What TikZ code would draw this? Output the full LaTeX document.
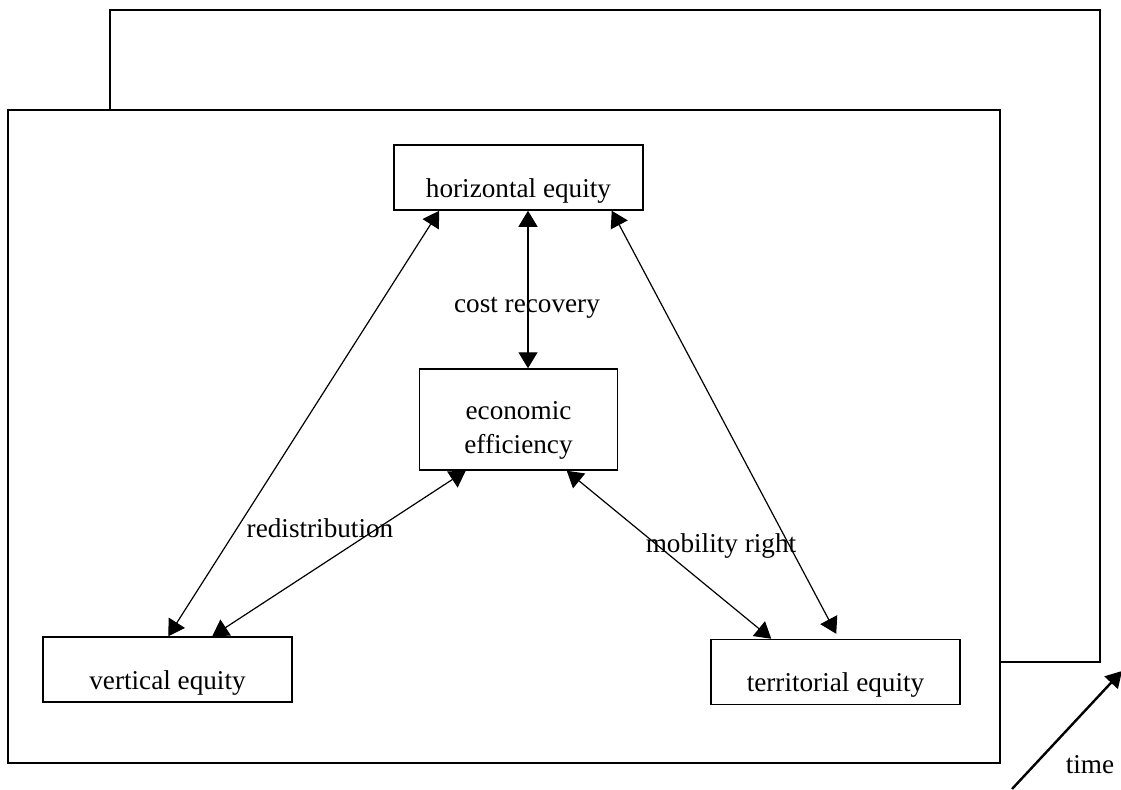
\documentclass[tikz,border=0pt]{standalone}
\usepackage{fontspec}
\setmainfont{Liberation Serif}
\usepackage{tikz}
\usetikzlibrary{positioning,arrows.meta}

\begin{document}
\begin{tikzpicture}[
	x=0.5pt, y=-0.5pt, % 1 unit = 1 pixel of the layout
	font=\fontsize{13.6}{17}\selectfont,
	frame/.style={
		draw=black,           % outer panels
		line width=0.75pt
	},
	box/.style={
		draw=black,
		line width=0.75pt,
		minimum width=124.5pt,
		minimum height=32.5pt,
		text height=19.5pt,   % text sits low in the box
		text depth=0pt,
		anchor=center
	},
	lbl/.style={              % labels on the links
		anchor=base,
		inner sep=0pt
	},
	link/.style={             % two-way link
		{Triangle[length=8pt,width=9.5pt]}-{Triangle[length=8pt,width=9.5pt]},
		line width=0.6pt
	},
	arrow_time/.style={
		-{Triangle[length=8pt,width=9pt]},
		line width=1.2pt
	}
	]
	\useasboundingbox (0,0) rectangle (1121,789);
	
	% --- PANELS ---
	\draw[frame] (110,10) rectangle (1100,662);
	\draw[frame, fill=white] (8,110) rectangle (1000,763);
	
	% --- BOXES ---
	\node[box] (hor) at (518.5,177.5) {horizontal equity};
	\node[box, minimum width=99pt, minimum height=50.5pt,
		align=center, text height=33.5pt, text depth=0pt] (econ) at (518.5,419.5) {economic\\efficiency};
	\node[box] (vert) at (167.5,669.5) {vertical equity};
	\node[box] (terr) at (835.5,672) {territorial equity};
	
	% --- LINKS ---
	\draw[link] ([xshift=4.75pt]hor.south) -- ([xshift=4.75pt]econ.north);
	\draw[link] ([xshift=23pt]hor.south west) -- ([xshift=63pt]vert.north west);
	\draw[link] ([xshift=23.5pt]econ.south west) -- ([xshift=85pt]vert.north west);
	\draw[link] ([xshift=74pt]econ.south west) -- ([xshift=30.5pt]terr.north west);
	\draw[link] ([xshift=-16pt]hor.south east) -- ([xshift=63pt,yshift=2.5pt]terr.north west);
	
	% --- LABELS ---
	\node[lbl] (cost) at (527,312) {cost recovery};
	\node[lbl] (redis) at (320,537) {redistribution};
	\node[lbl] (mob) at (721,552) {mobility right};
	
	% --- TIME ---
	\coordinate (t0) at (1012,789);
	\coordinate (t1) at (1122,671);
	\draw[arrow_time] (t0) -- (t1);
	\node[lbl] (time) at (1090,773) {time};
	
\end{tikzpicture}
\end{document}
